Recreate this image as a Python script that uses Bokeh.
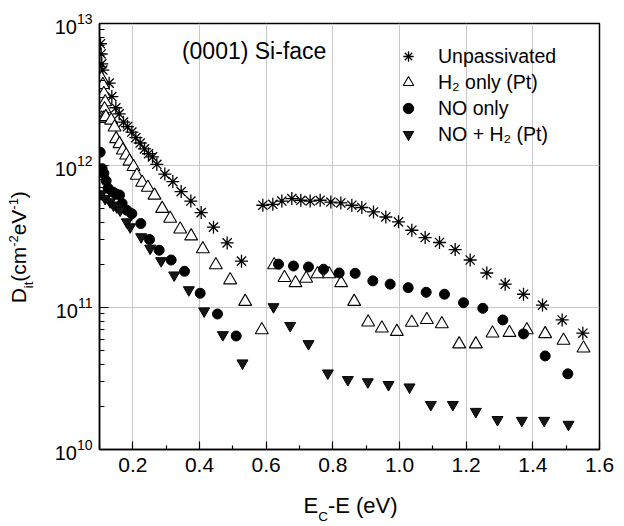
from bokeh.plotting import figure
from bokeh.models import (Range1d, FixedTicker, Label, Legend, LegendItem, NumeralTickFormatter,
                          CustomJSTickFormatter, LinearAxis)
from bokeh.embed import file_html
from bokeh.resources import INLINE

# ---------------- data ----------------
up_x = [0.103, 0.105, 0.107, 0.110, 0.129, 0.137, 0.149, 0.159, 0.172, 0.184, 0.197, 0.209, 0.222,
        0.235, 0.247, 0.259, 0.272, 0.296, 0.320, 0.345, 0.374, 0.405, 0.442, 0.483, 0.526,
        0.590, 0.620, 0.647, 0.677, 0.704, 0.732, 0.762, 0.794, 0.824, 0.857, 0.887, 0.922,
        0.959, 0.997, 1.037, 1.077, 1.120, 1.167, 1.212, 1.262, 1.317, 1.372, 1.429, 1.488, 1.550]
up_y = [7.2e12, 6.1e12, 5.2e12, 4.7e12, 3.8e12, 3.06e12, 2.55e12, 2.31e12, 2.02e12, 1.88e12,
        1.72e12, 1.57e12, 1.44e12, 1.31e12, 1.21e12, 1.15e12, 1.02e12, 8.7e11, 7.7e11, 6.55e11,
        5.62e11, 4.66e11, 3.68e11, 2.85e11, 2.12e11,
        5.25e11, 5.33e11, 5.62e11, 5.85e11, 5.69e11, 5.62e11, 5.69e11, 5.53e11, 5.45e11, 5.25e11,
        5.06e11, 4.71e11, 4.34e11, 4.01e11, 3.50e11, 3.11e11, 2.87e11, 2.56e11, 2.16e11, 1.75e11,
        1.46e11, 1.24e11, 1.04e11, 8.17e10, 6.59e10]

h2_x = [0.106, 0.110, 0.113, 0.117, 0.115, 0.106, 0.112, 0.119, 0.135, 0.145, 0.150, 0.160, 0.170,
        0.180, 0.190, 0.202, 0.212, 0.228, 0.245, 0.265, 0.288, 0.312, 0.342, 0.375, 0.410, 0.449,
        0.492, 0.537, 0.587, 0.624, 0.655, 0.688, 0.720, 0.754, 0.789, 0.825, 0.864, 0.906, 0.947,
        0.992, 1.037, 1.082, 1.127, 1.179, 1.229, 1.279, 1.330, 1.382, 1.437, 1.492, 1.552]
h2_y = [4.1e12, 3.7e12, 3.2e12, 2.8e12, 2.5e12, 2.15e12, 2.15e12, 2.2e12, 2.08e12, 1.86e12,
        1.54e12, 1.42e12, 1.28e12, 1.18e12, 1.07e12, 9.8e11, 8.5e11, 7.6e11, 7.0e11, 6.16e11,
        4.97e11, 4.23e11, 3.56e11, 3.18e11, 2.58e11, 1.99e11, 1.56e11, 1.10e11, 6.95e10, 1.99e11,
        1.62e11, 1.49e11, 1.60e11, 1.72e11, 1.72e11, 1.49e11, 1.10e11, 7.87e10, 7.15e10, 6.76e10,
        7.85e10, 8.2e10, 7.66e10, 5.52e10, 5.52e10, 6.59e10, 6.65e10, 6.95e10, 6.52e10, 5.85e10,
        5.17e10]

no_x = [0.102, 0.108, 0.113, 0.120, 0.126, 0.140, 0.150, 0.160, 0.168, 0.182, 0.197, 0.224, 0.250,
        0.279, 0.315, 0.355, 0.402, 0.454, 0.510, 0.637, 0.682, 0.727, 0.772, 0.819, 0.867, 0.920,
        0.972, 1.026, 1.080, 1.135, 1.192, 1.250, 1.310, 1.372, 1.437, 1.505]
no_y = [1.24e12, 9.5e11, 8.8e11, 7.8e11, 6.9e11, 6.5e11, 6.3e11, 6.2e11, 5.4e11, 4.84e11, 4.58e11,
        3.9e11, 3.01e11, 2.53e11, 2.16e11, 1.8e11, 1.26e11, 9.0e10, 6.3e10, 2.02e11, 1.96e11,
        1.93e11, 1.86e11, 1.75e11, 1.74e11, 1.54e11, 1.46e11, 1.38e11, 1.28e11, 1.24e11, 1.08e11,
        9.87e10, 8.17e10, 6.52e10, 4.56e10, 3.41e10]

nh_x = [0.105, 0.117, 0.132, 0.142, 0.152, 0.162, 0.182, 0.192, 0.225, 0.252, 0.285, 0.324, 0.368,
        0.414, 0.470, 0.529, 0.622, 0.672, 0.727, 0.785, 0.845, 0.905, 0.967, 1.030, 1.094, 1.160,
        1.229, 1.294, 1.367, 1.434, 1.507]
nh_y = [6.3e11, 5.85e11, 5.54e11, 5.25e11, 5.1e11, 4.84e11, 4.0e11, 3.69e11, 3.14e11, 2.61e11,
        2.13e11, 1.69e11, 1.33e11, 9.44e10, 6.42e10, 4.06e10, 1.01e11, 7.45e10, 5.55e10, 3.45e10,
        3.10e10, 2.99e10, 2.86e10, 2.75e10, 2.07e10, 2.07e10, 1.85e10, 1.62e10, 1.60e10, 1.60e10,
        1.50e10]

series_labels = ["Unpassivated", "H\u2082 only (Pt)", "NO only", "NO + H\u2082 (Pt)"]
x_ticks = [0.2, 0.4, 0.6, 0.8, 1.0, 1.2, 1.4, 1.6]
x_minor = [0.1, 0.3, 0.5, 0.7, 0.9, 1.1, 1.3, 1.5]
y_ticks = [1e10, 1e11, 1e12, 1e13]
y_minor = [k * 10.0 ** e for e in (10, 11, 12) for k in range(2, 10)]
title_text = "(0001) Si-face"
# axis titles split into pieces: (text, role) role: m=main, b=subscript, p=superscript
xlabel_parts = [("E", "m"), ("C", "b"), ("-E (eV)", "m")]
ylabel_parts = [("D", "m"), ("it", "b"), ("(cm", "m"), ("-2", "p"), ("eV", "m"), ("-1", "p"), (")", "m")]

FONT = "Liberation Sans"
W, H = 620, 526
FL, FR, FT, FB = 99, 599, 23, 450  # frame edges in canvas px

p = figure(width=W, height=H, y_axis_type="log",
           x_range=Range1d(0.1, 1.6), y_range=Range1d(1e10, 1e13),
           output_backend="svg", toolbar_location=None,
           min_border_left=FL, min_border_right=W - FR, min_border_top=FT, min_border_bottom=H - FB)
p.background_fill_color = "white"
p.border_fill_color = "white"
p.outline_line_color = "black"
p.outline_line_width = 1.5
p.outline_line_alpha = 1.0


def xd(px):
    return p.x_range.start + (px - FL) * (p.x_range.end - p.x_range.start) / (FR - FL)


def yd(py):
    return 10 ** (10 + (FB - py) * 3.0 / (FB - FT))


# x axis
xa = p.xaxis[0]
xa.ticker = FixedTicker(ticks=x_ticks, minor_ticks=x_minor)
xa.formatter = NumeralTickFormatter(format="0.0")
xa.major_tick_in = 8
xa.major_tick_out = 0
xa.minor_tick_in = 4
xa.minor_tick_out = 0
xa.axis_line_width = 1.5
xa.major_tick_line_width = 1.2
xa.minor_tick_line_width = 1.2
xa.major_label_text_font = FONT
xa.major_label_text_font_size = "21px"
xa.major_label_text_color = "black"
xa.major_label_standoff = 8

# y axis (log, native 10^n labels)
ya = p.yaxis[0]
ya.ticker = FixedTicker(ticks=y_ticks, minor_ticks=y_minor)
ya.major_tick_in = 9
ya.major_tick_out = 0
ya.minor_tick_in = 5
ya.minor_tick_out = 0
ya.axis_line_width = 1.5
ya.major_tick_line_width = 1.2
ya.minor_tick_line_width = 1.2
ya.major_label_text_font = FONT
ya.major_label_text_font_size = "20px"
ya.major_label_text_color = "black"
ya.major_label_standoff = 7

p.xgrid.grid_line_color = "#c8c8c8"
p.ygrid.grid_line_color = "#c8c8c8"


def text_axis(side, ticks, labels, size, standoff, orient="horizontal"):
    order = sorted(range(len(ticks)), key=lambda i: ticks[i])
    ax = LinearAxis(ticker=FixedTicker(ticks=[ticks[i] for i in order]),
                    formatter=CustomJSTickFormatter(args=dict(labels=[labels[i] for i in order]),
                                                    code="return labels[index]"),
                    axis_line_color=None, major_tick_in=0, major_tick_out=0,
                    minor_tick_in=0, minor_tick_out=0, major_label_standoff=standoff,
                    major_label_text_font=FONT, major_label_text_font_size=size,
                    major_label_text_color="black", major_label_orientation=orient)
    p.add_layout(ax, side)


# ---- x axis title: E_C-E (eV) built from stacked label-only axes ----
XM, XS = 22.0, 13.5
adv_x = {"m": XM, "b": XS}
wid = {"E": 0.667, "C": 0.722, "-E (eV)": 3.167}
start = 303.0
xm_t, xm_l, xs_t, xs_l = [], [], [], []
cur = start
for txt, role in xlabel_parts:
    w = wid[txt] * adv_x[role]
    c = xd(cur + w / 2)
    if role == "m":
        xm_t.append(c); xm_l.append(txt)
    else:
        xs_t.append(c); xs_l.append(txt)
    cur += w
text_axis("below", xm_t, xm_l, "22px", 18)
text_axis("below", xs_t, xs_l, "13.5px", -12)

# ---- y axis title: D_it(cm^-2 eV^-1) ----
YM, YS = 21.0, 13.0
ywid = {"D": 0.722, "it": 0.5, "(cm": 1.666, "-2": 0.889, "eV": 1.223, "-1": 0.889, ")": 0.333}
ybottom = 303.5
groups = {"m": ([], []), "b": ([], []), "p": ([], [])}
cur = ybottom
for txt, role in ylabel_parts:
    w = ywid[txt] * (YM if role == "m" else YS)
    groups[role][0].append(yd(cur - w / 2))
    groups[role][1].append(txt)
    cur -= w
text_axis("left", groups["b"][0], groups["b"][1], "13px", 15, "vertical")
text_axis("left", groups["m"][0], groups["m"][1], "21px", -12, "vertical")
text_axis("left", groups["p"][0], groups["p"][1], "13px", -14, "vertical")

# data marks
r1 = p.scatter(up_x, up_y, marker="asterisk", size=13, line_color="black", line_width=1.3)
r2 = p.scatter(h2_x, h2_y, marker="triangle", size=13, fill_color="white", line_color="black",
               line_width=1.1)
r3 = p.scatter(no_x, no_y, marker="circle", size=10, fill_color="black", line_color="black")
r4 = p.scatter(nh_x, nh_y, marker="inverted_triangle", size=11, fill_color="#161616",
               line_color="black", line_width=1)

legend = Legend(items=[LegendItem(label=series_labels[0], renderers=[r1]),
                       LegendItem(label=series_labels[1], renderers=[r2]),
                       LegendItem(label=series_labels[2], renderers=[r3]),
                       LegendItem(label=series_labels[3], renderers=[r4])],
                location=(294, 302), border_line_color=None, background_fill_alpha=0,
                padding=0, margin=0, spacing=0, glyph_width=30, glyph_height=26,
                label_height=26, label_standoff=15, label_text_font=FONT,
                label_text_font_size="19.5px", label_text_color="black")
p.add_layout(legend)

p.add_layout(Label(x=0.1, y=1e13, x_offset=82.4, y_offset=-27.6, text=title_text, text_font=FONT,
                   text_font_size="23px", text_align="left", text_baseline="alphabetic",
                   text_color="black"))

open("out.html", "w").write(file_html(p, INLINE))
